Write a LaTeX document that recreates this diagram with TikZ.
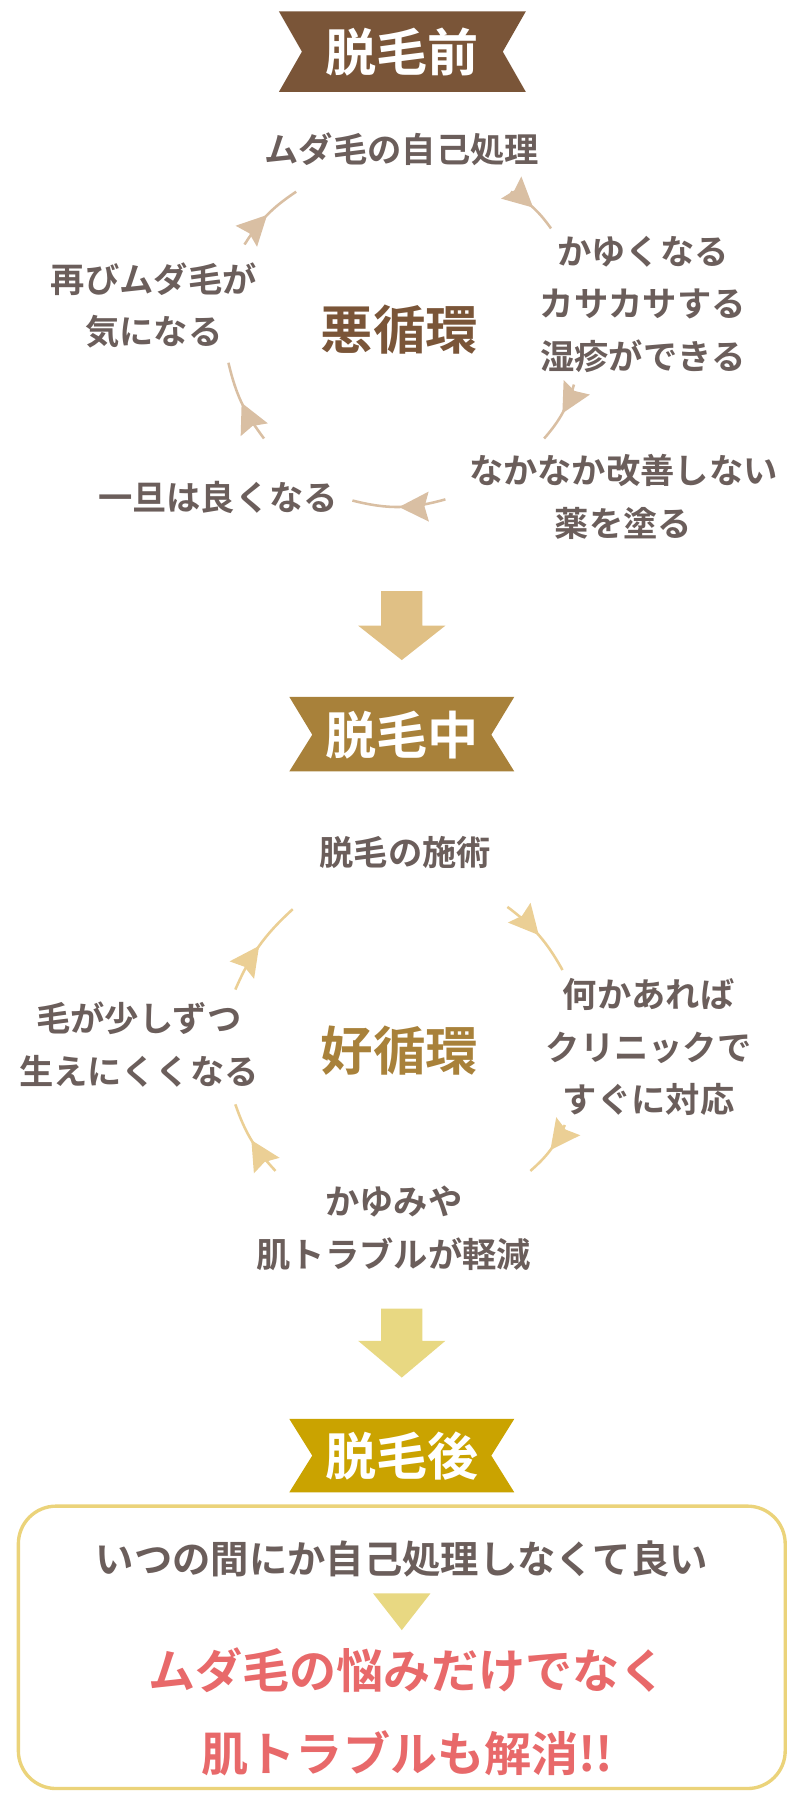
\documentclass[tikz,border=0pt]{standalone}
\usepackage{fontspec}
\newfontfamily\cjk{Noto Sans CJK JP}[BoldFont={Noto Sans CJK JP Bold}]
\usetikzlibrary{arrows.meta,decorations.markings}
\definecolor{txt}{HTML}{6B5E5B}
\definecolor{brownA}{HTML}{7A5538}
\definecolor{brownB}{HTML}{A8813A}
\definecolor{goldC}{HTML}{CAA300}
\definecolor{arcA}{HTML}{D9BFA3}
\definecolor{arcB}{HTML}{EBCF95}
\definecolor{yel}{HTML}{E8D882}
\definecolor{arr1}{HTML}{E0C085}
\definecolor{boxb}{HTML}{EBD37A}
\definecolor{red}{HTML}{E8696A}
\begin{document}
\begin{tikzpicture}[x=0.03cm,y=-0.03cm,
  lbl/.style={font=\cjk\bfseries\fontsize{25.5pt}{39pt}\selectfont,text=txt,align=center,inner sep=0},
  ttl/.style={font=\cjk\bfseries\fontsize{39pt}{44pt}\selectfont,inner sep=0},
  ban/.style={font=\cjk\bfseries\fontsize{38pt}{42pt}\selectfont,text=white,inner sep=0},
  cyc/.style={line width=1.9pt,draw=#1,postaction={decorate},decoration={markings,mark=at position 0.5 with {\arrow[#1]{Stealth[length=22,width=22,inset=3]}}}}]
\useasboundingbox (0,0) rectangle (700,1568);
% banners
\fill[brownA] (243,10) -- (458,10) -- (438,45) -- (458,80) -- (243,80) -- (263,45) -- cycle;
\node[ban] (b1) at (350,45) {脱毛前};
\fill[brownB] (252,607) -- (448,607) -- (428,640) -- (448,672) -- (252,672) -- (272,640) -- cycle;
\node[ban] (b2) at (350,640) {脱毛中};
\fill[goldC] (252,1236) -- (448,1236) -- (428,1268) -- (448,1300) -- (252,1300) -- (272,1268) -- cycle;
\node[ban] (b3) at (350,1268) {脱毛後};
% cycle 1
\node[ttl,text=brownA] (c1) at (348,287) {悪循環};
\node[lbl] (t1) at (350,130) {ムダ毛の自己処理};
\node[lbl] (t2) at (560,265) {かゆくなる\\カサカサする\\湿疹ができる};
\node[lbl] (t3) at (543,433) {なかなか改善しない\\薬を塗る};
\node[lbl] (t4) at (190,433) {一旦は良くなる};
\node[lbl] (t5) at (134,266) {再びムダ毛が\\気になる};
\coordinate (a1s) at (213,213); \coordinate (a1e) at (258,167);
\coordinate (a2s) at (445,167); \coordinate (a2e) at (480,199);
\coordinate (a3s) at (500,335); \coordinate (a3e) at (474,382);
\coordinate (a4s) at (388,435); \coordinate (a4e) at (307,436);
\coordinate (a5s) at (230,382); \coordinate (a5e) at (199,316);
\draw[cyc=arcA] (a1s) to[bend left=12] (a1e);
\draw[cyc=arcA] (a2s) to[bend left=12] (a2e);
\draw[cyc=arcA] (a3s) to[bend left=12] (a3e);
\draw[cyc=arcA] (a4s) to[bend left=15] (a4e);
\draw[cyc=arcA] (a5s) to[bend left=12] (a5e);
% arrow 1
\fill[arr1] (332,515) -- (368,515) -- (368,545) -- (388,545) -- (350,575) -- (312,545) -- (332,545) -- cycle;
% cycle 2
\node[ttl,text=brownB] (c2) at (348,915) {好循環};
\node[lbl] (u1) at (353,743) {脱毛の施術};
\node[lbl] (u2) at (565,912) {何かあれば\\クリニックで\\すぐに対応};
\node[lbl] (u3) at (343,1070) {かゆみや\\肌トラブルが軽減};
\node[lbl] (u4) at (121,910) {毛が少しずつ\\生えにくくなる};
\coordinate (b1s) at (205,862); \coordinate (b1e) at (255,792);
\coordinate (b2s) at (442,790); \coordinate (b2e) at (490,845);
\coordinate (b3s) at (492,980); \coordinate (b3e) at (462,1020);
\coordinate (b4s) at (240,1020); \coordinate (b4e) at (205,962);
\draw[cyc=arcB] (b1s) to[bend left=12] (b1e);
\draw[cyc=arcB] (b2s) to[bend left=12] (b2e);
\draw[cyc=arcB] (b3s) to[bend left=12] (b3e);
\draw[cyc=arcB] (b4s) to[bend left=12] (b4e);
% arrow 2
\fill[yel] (332,1140) -- (368,1140) -- (368,1168) -- (388,1168) -- (350,1200) -- (312,1168) -- (332,1168) -- cycle;
% box
\draw[boxb,line width=2.5pt,rounded corners=28,fill=white] (16,1312) rectangle (684,1558);
\node[lbl,font=\cjk\bfseries\fontsize{28.5pt}{34pt}\selectfont] (v1) at (350,1358) {いつの間にか自己処理しなくて良い};
\fill[yel] (325,1388) -- (375,1388) -- (350,1420) -- cycle;
\node[font=\cjk\bfseries\fontsize{35pt}{62pt}\selectfont,text=red,align=center,inner sep=0] (v2) at (355,1491) {ムダ毛の悩みだけでなく\\肌トラブルも解消!!};
\end{tikzpicture}
\end{document}
